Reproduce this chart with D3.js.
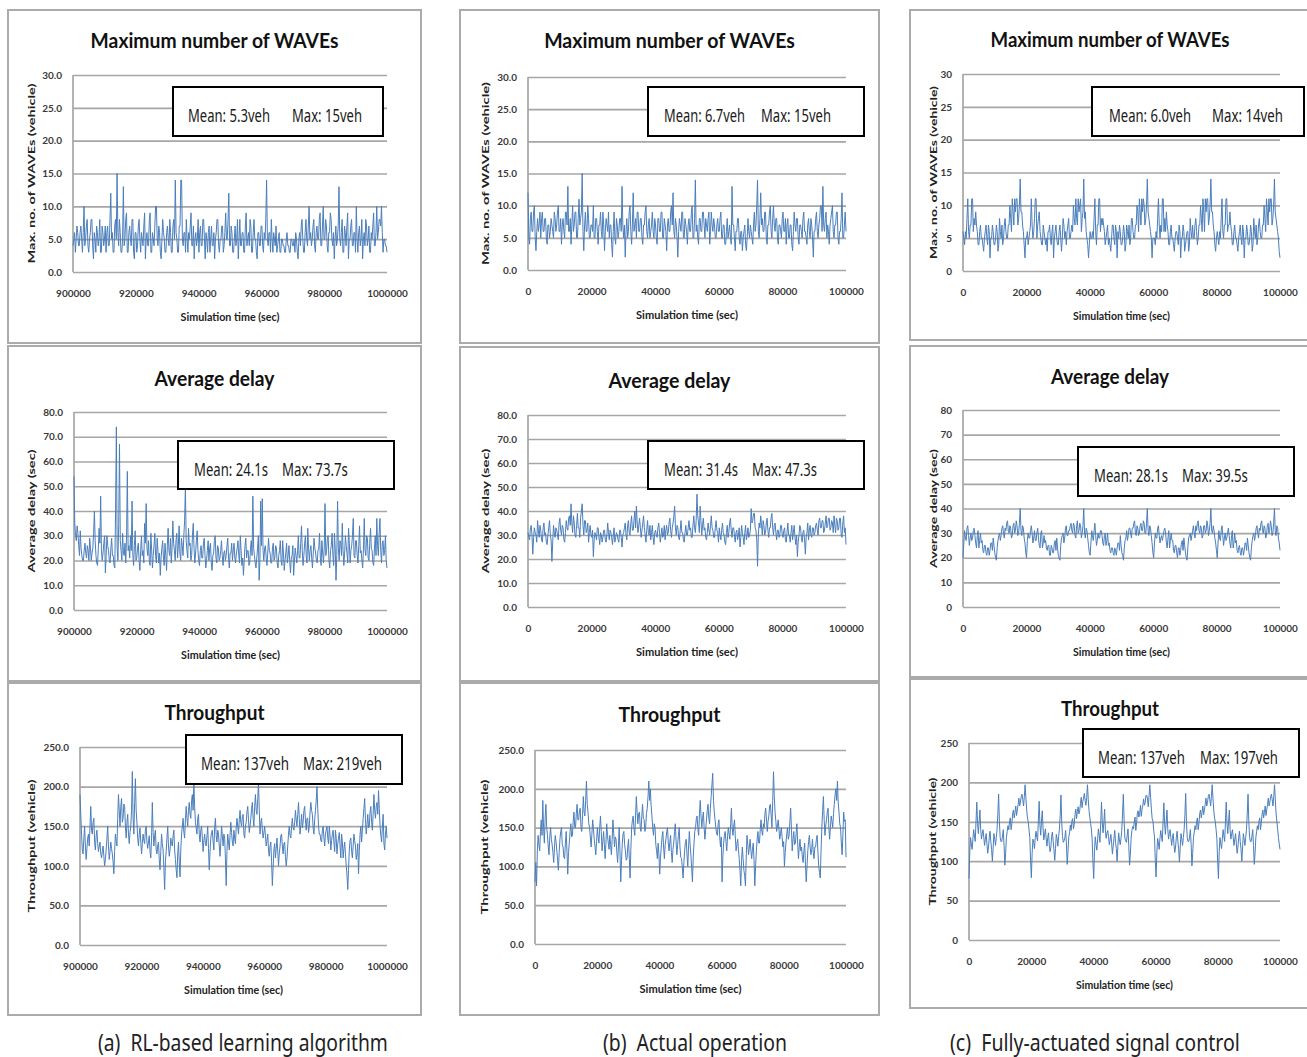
<!DOCTYPE html>
<html>
<head>
<meta charset="utf-8">
<script src="https://cdn.jsdelivr.net/npm/d3@7"></script>
<style>
  body { margin: 0; background: #fff; }
</style>
</head>
<body>
<svg id="fig" width="1307" height="1057"></svg>
<script>
// time ranges and ticks
const rlTime = [900000, 1000000];
const baseTime = [0, 100000];
const rlTicks = [900000, 920000, 940000, 960000, 980000, 1000000];
const baseTicks = [0, 20000, 40000, 60000, 80000, 100000];

const wavesTicks = [0, 5, 10, 15, 20, 25, 30];
const delayTicks = [0, 10, 20, 30, 40, 50, 60, 70, 80];
const thruTicks = [0, 50, 100, 150, 200, 250];

const titles = ["Maximum number of WAVEs", "Average delay", "Throughput"];
const yLabels = ["Max. no. of WAVEs (vehicle)", "Average delay (sec)", "Throughput (vehicle)"];
const captions = ["(a)  RL-based learning algorithm", "(b)  Actual operation", "(c)  Fully-actuated signal control"];

// legend texts [mean, max]
const legendWavesRL = ["Mean: 5.3veh", "Max: 15veh"];
const legendWavesActual = ["Mean: 6.7veh", "Max: 15veh"];
const legendWavesFull = ["Mean: 6.0veh", "Max: 14veh"];
const legendDelayRL = ["Mean: 24.1s", "Max: 73.7s"];
const legendDelayActual = ["Mean: 31.4s", "Max: 47.3s"];
const legendDelayFull = ["Mean: 28.1s", "Max: 39.5s"];
const legendThruRL = ["Mean: 137veh", "Max: 219veh"];
const legendThruFull = ["Mean: 137veh", "Max: 197veh"];

// series (evenly spaced over the time range)
const wavesRL = [
  4,5,6,3,5,7,6,4,4,6,7,5,3,6,10,4,5,7,8,4,3,5,6,8,8,4,2,6,5,3,7,6,4,5,8,3,3,7,6,4,
  5,7,3,6,7,4,4,8,12,5,6,3,3,7,8,5,15,6,4,8,6,3,3,5,13,4,5,8,9,3,3,6,7,5,4,8,8,3,2,6,
  6,3,4,7,8,5,3,6,5,4,7,9,2,5,6,4,4,8,9,3,3,6,5,4,7,10,10,5,4,7,6,3,2,5,8,6,5,3,3,6,
  7,5,4,8,6,3,3,7,8,5,14,6,5,3,3,7,7,14,14,5,4,6,6,3,8,5,3,6,5,7,9,4,4,7,2,5,6,4,5,8,
  3,6,7,4,4,8,8,5,2,6,5,3,6,7,3,5,7,4,4,6,2,5,6,8,8,4,3,5,5,7,7,3,4,6,9,5,5,8,12,4,
  4,7,6,3,3,5,7,4,5,8,2,5,8,4,4,6,6,3,3,7,9,4,5,6,4,8,7,3,3,6,8,5,5,3,2,6,6,4,4,7,
  7,4,3,6,5,8,14,5,4,6,6,3,8,5,3,6,5,4,7,3,4,5,6,3,3,5,5,4,4,3,3,5,6,4,4,3,3,5,5,4,
  4,5,3,6,5,3,2,5,6,4,7,8,5,3,3,6,8,5,4,7,10,5,6,4,5,7,8,4,3,6,7,5,5,8,9,4,4,7,10,5,
  5,8,7,4,3,6,6,9,8,5,4,6,2,5,7,4,5,7,13,5,4,6,8,3,3,7,6,4,7,9,2,5,5,7,8,4,4,6,6,3,
  10,5,3,6,7,4,5,8,2,5,6,4,8,7,4,5,7,3,3,6,5,7,9,4,4,6,10,5,6,8,8,7,10,6,3,5,5,4,4,3
];
const wavesActual = [
  12,5,4,8,9,6,6,9,10,5,3,6,8,6,7,9,5,8,9,6,6,8,8,5,4,7,7,5,6,8,7,6,5,9,8,6,7,9,10,6,
  6,8,4,7,8,6,5,9,9,7,13,6,6,8,4,7,10,6,7,9,9,5,5,8,11,7,8,9,15,6,3,7,9,6,6,10,8,5,5,7,
  7,6,10,5,5,8,8,6,4,7,7,9,6,5,9,7,3,6,8,7,6,9,5,7,7,4,2,6,9,5,4,8,7,5,6,8,8,6,13,7,
  5,7,2,6,8,5,6,9,10,6,4,7,12,6,7,8,5,9,9,6,6,8,8,5,4,7,7,9,10,6,5,7,8,5,6,7,9,6,5,8,
  7,5,4,8,8,6,6,9,9,5,5,8,7,6,3,7,8,6,6,9,10,7,12,6,5,8,7,5,2,6,8,7,6,9,9,5,5,8,7,6,
  4,7,8,6,6,9,10,5,5,8,14,6,7,5,4,8,8,6,6,9,9,7,5,8,7,6,8,9,4,6,9,7,6,8,7,5,5,7,8,6,
  6,8,9,5,5,7,7,4,4,6,8,5,6,7,5,4,13,7,7,5,3,6,6,8,8,5,4,6,6,3,5,6,7,4,3,5,8,6,5,7,
  6,5,4,7,9,6,7,10,14,6,5,8,12,7,8,6,6,9,9,5,4,7,7,9,10,6,5,8,10,7,6,8,8,5,4,7,7,6,5,8,
  9,6,6,8,4,7,8,5,5,7,7,4,3,6,9,7,6,8,8,5,4,7,7,6,5,8,9,6,6,5,4,7,8,6,5,8,7,5,2,6,
  6,8,9,6,5,7,8,10,10,6,13,7,6,8,9,5,7,6,4,7,8,9,10,6,5,7,7,9,9,5,4,6,6,8,12,5,5,7,9,6
];
const wavesFull = [
  6,5,4,6,5,8,11,6,5,7,7,11,11,6,8,7,9,7,6,4,4,6,7,5,5,4,3,5,6,7,5,4,7,6,2,5,5,7,6,4,
  4,5,7,6,3,4,8,6,5,7,4,5,7,8,6,5,5,7,7,10,8,6,11,9,7,11,9,11,11,7,8,10,14,9,9,7,6,4,2,5,
  5,6,4,5,6,7,11,7,5,6,8,11,11,5,7,8,9,6,5,4,4,7,6,5,4,5,3,6,6,7,5,4,6,7,2,5,6,7,5,4,
  4,6,7,5,3,5,8,7,5,6,4,6,7,8,5,5,6,7,6,10,8,7,11,8,7,11,9,10,11,6,8,9,14,8,9,6,5,4,2,4,
  6,5,5,6,5,8,11,6,4,7,7,11,11,6,8,7,8,7,6,4,5,6,7,4,5,4,3,5,7,7,5,4,7,6,2,6,5,7,6,4,
  4,5,7,6,3,4,7,6,5,7,4,5,8,8,6,5,5,7,7,10,9,6,11,9,7,11,9,11,10,7,8,10,14,9,8,7,6,5,2,5,
  5,5,4,6,5,8,11,7,5,7,6,11,11,6,8,6,9,7,6,4,4,6,7,5,5,4,3,5,6,6,5,4,7,6,2,5,5,7,6,3,
  4,5,6,6,3,4,8,6,5,7,5,5,7,8,6,4,5,7,7,10,8,6,11,9,6,11,9,11,11,7,8,10,14,9,9,7,6,4,3,5,
  6,5,4,6,5,8,11,6,5,7,7,11,11,6,7,7,9,7,6,4,4,6,7,5,5,4,3,5,6,7,5,4,7,6,2,5,5,7,6,4,
  4,5,7,6,3,4,8,6,5,7,4,5,7,8,6,5,5,7,7,10,8,6,11,9,7,11,9,11,11,7,8,10,14,9,8,7,6,5,3,2
];
const delayRL = [
  54,35,30,28,34,31,26,22,32,25,22,20,20,24,27,23,21,26,24,20,29,25,20,23,25,31,40,28,22,19,18,25,33,27,46,24,20,23,27,30,
  15,22,30,26,24,20,19,25,29,22,22,18,17,40,74,25,20,35,67,28,24,20,31,23,22,27,19,30,56,24,26,21,30,24,44,22,18,26,32,20,
  21,25,27,20,16,24,30,22,24,19,35,27,43,25,22,28,20,18,31,24,17,22,26,31,22,19,29,24,19,23,14,21,25,28,21,18,27,22,16,26,
  33,24,22,29,19,25,36,27,24,20,28,31,21,26,34,23,20,29,26,22,30,36,50,28,24,21,33,26,27,20,22,30,35,25,19,23,28,32,24,20,
  18,24,26,21,21,27,29,22,17,20,24,28,20,25,27,19,16,22,23,28,30,21,19,26,25,20,21,24,28,22,18,23,24,20,22,26,29,21,17,23,
  23,27,20,24,27,21,19,23,25,28,22,19,30,24,18,21,14,20,26,29,21,24,24,18,19,25,28,22,46,25,22,19,17,21,25,30,12,20,44,26,
  45,24,20,25,26,21,18,23,29,24,23,19,19,25,27,20,21,26,25,19,17,22,24,28,20,18,28,23,16,20,23,27,19,22,26,20,15,21,22,26,
  14,20,25,22,19,24,30,21,21,27,34,24,18,22,27,30,22,19,33,25,20,24,26,21,17,23,29,25,23,20,19,24,25,31,21,18,28,23,19,25,
  43,22,24,29,30,20,17,24,26,31,22,18,31,25,12,22,44,25,20,28,27,22,35,24,18,23,30,26,23,19,33,27,19,24,26,30,37,22,21,28,
  28,22,19,26,34,23,24,20,17,25,37,24,22,30,29,21,20,27,33,25,24,19,18,25,30,22,37,26,22,31,37,24,19,27,28,22,24,30,20,17
];
const delayActual = [
  31,29,28,33,34,30,22,29,33,31,30,27,36,32,29,34,32,28,27,33,35,30,31,27,26,30,33,36,30,28,19,27,34,31,29,33,32,30,28,35,
  37,32,30,34,33,28,27,31,36,33,32,37,38,34,43,35,31,38,35,30,29,34,39,33,33,29,37,40,43,34,30,36,36,31,32,35,27,31,34,30,
  29,32,21,28,31,30,28,33,33,29,26,31,30,27,29,32,32,28,27,30,35,31,28,32,31,29,26,30,33,27,29,31,30,28,27,32,32,29,25,30,
  31,33,35,30,28,34,36,31,30,35,38,32,32,36,40,33,42,35,31,34,37,33,29,32,35,38,33,30,27,32,36,31,30,34,28,31,34,29,26,31,
  32,30,29,33,35,31,27,30,33,29,30,34,28,32,34,30,31,35,37,32,29,33,35,38,42,33,30,34,33,29,28,32,36,31,31,28,27,31,34,30,
  30,33,36,32,33,29,29,34,38,33,31,36,47,38,35,31,42,36,30,34,37,32,33,29,28,31,35,32,30,34,38,33,32,29,29,33,36,32,31,27,
  33,30,28,32,35,31,30,27,26,31,34,29,31,35,37,32,29,33,33,30,27,31,32,28,30,33,25,29,34,31,29,26,31,34,28,30,33,29,30,32,
  41,35,36,39,39,33,32,28,17,30,35,33,38,34,30,36,34,30,31,35,37,32,29,33,33,37,39,33,30,34,35,31,28,32,32,29,30,34,34,30,
  29,32,33,28,27,31,35,30,30,27,31,34,28,31,34,29,26,30,21,27,30,34,33,29,27,31,32,28,22,29,31,35,28,32,34,30,29,33,33,30,
  31,34,35,32,30,36,37,33,33,36,36,31,32,35,38,33,34,37,37,32,33,36,35,31,38,34,31,37,36,32,33,37,37,30,29,35,38,31,33,26
];
const delayFull = [
  20,26,31,28,27,32,33,29,25,28,30,27,28,31,32,29,26,24,29,31,24,27,30,26,27,23,22,25,25,22,21,24,24,21,23,26,26,23,28,25,
  22,20,19,24,27,29,30,27,29,32,33,30,28,32,31,34,35,31,30,33,32,28,29,33,34,30,31,35,33,29,30,34,40,31,29,33,32,28,26,22,
  20,27,30,28,28,31,33,30,26,28,31,27,27,30,32,28,25,24,30,31,24,26,29,26,27,24,23,25,25,21,21,25,24,22,22,26,27,23,28,24,
  21,20,19,25,28,29,30,26,28,32,33,29,29,31,31,33,34,31,30,34,33,29,28,33,35,30,31,34,33,28,30,33,40,30,28,32,31,28,25,22,
  21,26,31,29,27,31,34,29,25,27,30,28,28,31,31,29,26,25,29,30,25,27,30,25,26,23,22,24,24,22,21,24,23,21,24,26,26,23,29,25,
  22,21,19,24,27,28,31,27,29,32,32,30,28,32,32,34,35,30,29,33,32,29,30,33,34,31,31,35,34,30,30,34,40,31,29,33,32,29,26,22,
  20,26,30,28,28,32,33,29,26,28,29,27,29,31,32,30,26,24,28,31,24,27,30,27,27,23,22,25,25,22,20,24,24,21,23,26,27,23,28,25,
  22,20,19,24,28,29,30,27,29,31,33,30,28,33,31,34,35,31,30,33,32,28,29,33,33,30,31,35,33,29,31,34,40,31,30,33,31,28,26,23,
  20,26,31,28,27,31,33,29,25,28,30,27,28,30,32,29,26,24,29,31,24,26,30,26,27,23,22,24,25,22,21,24,24,21,23,26,26,23,28,25,
  22,20,19,24,27,29,30,27,29,32,33,30,28,32,31,34,35,31,30,33,32,28,29,33,34,30,31,35,33,29,30,34,40,31,29,33,32,28,26,23
];
const thruRL = [
  190,165,140,120,115,135,150,125,108,122,135,140,125,150,175,145,140,155,160,130,120,138,145,128,118,125,130,115,110,118,125,112,100,108,120,135,150,125,108,118,
  130,122,115,105,90,118,140,132,125,160,190,170,150,175,185,155,160,178,175,150,135,155,165,140,128,142,150,170,219,160,140,180,210,170,155,135,125,140,148,130,
  115,128,140,132,128,145,150,130,122,130,138,118,110,135,180,142,125,138,145,120,115,125,130,108,95,118,140,128,120,98,70,105,118,135,150,125,112,120,135,128,
  125,138,145,120,108,95,85,115,130,105,86,120,140,150,160,142,135,158,175,160,150,170,180,165,160,182,190,170,205,175,155,148,140,160,165,140,130,145,150,135,
  118,132,140,128,125,138,150,122,95,118,135,142,145,130,120,148,160,138,130,145,140,125,112,130,150,138,125,140,135,110,75,118,140,130,120,138,155,142,130,125,
  145,135,128,148,160,150,140,158,170,155,150,162,165,140,135,150,155,168,175,158,142,150,160,172,180,160,150,175,190,170,165,185,205,170,140,155,160,145,135,142,
  150,138,125,132,140,120,112,125,130,105,75,98,120,128,110,122,135,118,100,115,125,138,140,125,115,128,130,112,100,110,125,140,150,138,135,150,160,148,145,155,
  170,158,150,165,180,160,140,152,165,148,155,170,175,158,145,160,160,142,150,168,180,170,165,148,140,158,170,182,200,172,150,140,140,132,130,145,150,135,125,140,
  145,150,135,128,150,138,120,132,140,145,130,118,145,135,115,128,135,142,125,110,140,130,110,122,130,115,100,88,70,95,120,132,135,118,110,125,140,132,125,108,
  115,128,90,118,140,150,130,145,160,172,185,158,140,152,165,148,150,168,175,155,145,165,190,170,160,175,180,165,195,172,150,138,130,150,165,128,120,140,150,135
];
const thruActual = [
  80,105,75,120,140,128,120,145,160,140,185,150,130,162,180,150,140,125,115,138,150,135,128,118,105,125,140,132,120,108,95,118,135,145,150,128,125,112,110,130,
  145,120,90,118,130,145,155,138,140,158,170,150,150,168,180,160,160,172,175,150,145,165,190,170,165,185,210,180,170,155,150,138,125,142,160,148,135,125,115,132,
  150,138,130,150,165,145,120,132,145,128,110,130,155,140,130,122,140,128,115,135,160,142,125,138,135,118,105,125,150,120,80,108,130,142,145,128,120,108,110,125,
  135,110,85,122,150,160,165,148,140,165,190,170,155,168,170,150,145,165,180,162,160,145,150,168,175,190,210,185,200,178,165,150,140,155,150,128,120,110,130,115,
  90,112,125,138,145,125,110,128,135,145,150,130,120,132,140,118,105,122,130,145,155,132,115,128,140,150,125,112,110,98,85,105,120,132,135,115,100,125,145,128,
  115,98,80,112,130,145,150,162,165,148,140,168,185,165,150,162,170,150,135,148,160,172,180,162,155,175,190,205,220,185,170,160,150,142,140,155,160,138,125,138,
  80,112,130,140,145,132,120,138,150,142,135,155,175,150,140,152,160,138,120,128,135,122,110,95,75,108,125,110,95,88,75,112,140,128,115,125,135,120,110,122,
  130,108,75,100,120,135,145,130,130,148,160,145,140,155,150,168,175,160,145,158,165,178,180,165,150,185,222,190,170,158,145,152,160,148,135,142,150,138,125,132,
  100,118,130,142,150,135,140,158,175,148,120,135,145,128,130,142,155,130,110,125,135,120,125,112,105,120,130,102,80,100,120,132,140,125,115,122,135,118,110,125,
  125,135,140,118,100,92,85,120,150,172,190,160,140,152,160,170,175,150,135,150,165,158,150,168,180,192,200,185,210,182,170,155,150,130,115,140,170,158,160,112
];
const thruFull = [
  78,112,130,122,115,128,140,132,125,150,175,148,135,150,165,140,128,135,140,130,120,128,135,122,110,118,130,138,125,115,100,118,135,128,120,130,140,160,185,150,
  130,125,125,132,140,120,95,110,130,138,145,140,150,155,140,148,160,165,155,162,170,158,165,172,180,170,175,182,185,178,170,182,197,180,165,155,150,140,130,100,
  79,110,128,124,116,130,138,130,126,152,176,146,133,151,164,142,127,134,141,129,119,130,136,120,112,117,131,137,126,114,101,116,134,129,119,131,141,158,184,148,
  131,124,126,130,139,122,96,112,131,136,146,139,151,154,141,147,159,166,154,163,169,160,164,173,181,168,176,180,186,177,171,181,197,178,164,156,148,141,128,99,
  78,113,131,121,114,127,141,133,124,149,175,149,136,149,166,139,129,136,139,131,121,127,134,123,109,119,129,139,124,116,100,119,136,127,121,129,139,161,185,151,
  129,126,124,133,141,119,95,109,129,139,144,141,149,156,139,149,161,164,156,161,171,157,166,171,179,171,174,183,184,179,169,183,197,181,166,154,151,139,131,101,
  80,111,129,123,115,129,139,131,125,151,174,147,134,150,165,141,128,135,140,130,120,129,135,121,111,118,130,138,125,115,99,118,135,128,120,130,140,159,186,150,
  130,125,125,131,140,121,94,110,130,137,145,140,150,155,140,148,160,165,155,162,170,159,165,172,180,170,175,182,185,178,170,182,197,180,165,155,150,140,129,100,
  78,112,130,122,116,128,140,132,125,150,175,148,135,150,165,140,128,135,140,130,120,128,135,122,110,118,130,138,125,115,100,118,135,128,120,130,140,160,185,150,
  130,125,125,132,140,120,96,110,130,138,145,140,150,155,140,148,160,165,155,162,170,158,165,172,180,170,175,182,185,178,170,182,197,178,160,150,140,130,122,115
];

const fmt1 = d3.format(".1f");
const fmt0 = d3.format("d");

// layout of each small chart: outer box, plot area, text positions
const panels = [
  { box: [8, 10, 413, 333], plot: [73, 387, 75, 272], yl: 31, ylw: 180, tb: 48, tw: 248, xlw: 99,
    time: rlTime, xTicks: rlTicks, yTicks: wavesTicks, fmt: fmt1, title: titles[0], ylab: yLabels[0], values: wavesRL,
    legend: { r: [173, 87, 210, 49], off: [15, 119], w: [82, 70], txt: legendWavesRL } },
  { box: [8, 346, 413, 335], plot: [74, 387, 412, 610], yl: 31, ylw: 123, tb: 386, tw: 120, xlw: 99,
    time: rlTime, xTicks: rlTicks, yTicks: delayTicks, fmt: fmt1, title: titles[1], ylab: yLabels[1], values: delayRL,
    legend: { r: [178, 441, 216, 48], off: [16, 104], w: [74, 66], txt: legendDelayRL } },
  { box: [8, 683, 413, 332], plot: [80, 387, 747, 945], yl: 31, ylw: 133, tb: 720, tw: 100, xlw: 99,
    time: rlTime, xTicks: rlTicks, yTicks: thruTicks, fmt: fmt1, title: titles[2], ylab: yLabels[2], values: thruRL,
    legend: { r: [186, 735, 216, 49], off: [15, 117], w: [88, 79], txt: legendThruRL } },
  { box: [460, 10, 419, 333], plot: [528, 846, 77, 270], yl: 485, ylw: 183, tb: 48, tw: 251, xlw: 102,
    time: baseTime, xTicks: baseTicks, yTicks: wavesTicks, fmt: fmt1, title: titles[0], ylab: yLabels[0], values: wavesActual,
    legend: { r: [648, 87, 216, 49], off: [16, 113], w: [81, 70], txt: legendWavesActual } },
  { box: [460, 347, 419, 334], plot: [528, 846, 415, 607], yl: 485, ylw: 125, tb: 388, tw: 122, xlw: 102,
    time: baseTime, xTicks: baseTicks, yTicks: delayTicks, fmt: fmt1, title: titles[1], ylab: yLabels[1], values: delayActual,
    legend: { r: [648, 441, 216, 48], off: [16, 104], w: [74, 65], txt: legendDelayActual } },
  { box: [460, 683, 419, 332], plot: [535, 846, 750, 944], yl: 484, ylw: 135, tb: 722, tw: 102, xlw: 102,
    time: baseTime, xTicks: baseTicks, yTicks: thruTicks, fmt: fmt1, title: titles[2], ylab: yLabels[2], values: thruActual,
    legend: null },
  { box: [910, 10, 400, 330], plot: [963, 1280, 74, 271], yl: 933, ylw: 173, tb: 47, tw: 239, xlw: 97,
    time: baseTime, xTicks: baseTicks, yTicks: wavesTicks, fmt: fmt0, title: titles[0], ylab: yLabels[0], values: wavesFull,
    legend: { r: [1092, 87, 212, 49], off: [17, 120], w: [82, 71], txt: legendWavesFull } },
  { box: [910, 346, 400, 331], plot: [963, 1280, 410, 607], yl: 933, ylw: 119, tb: 384, tw: 118, xlw: 97,
    time: baseTime, xTicks: baseTicks, yTicks: delayTicks, fmt: fmt0, title: titles[1], ylab: yLabels[1], values: delayFull,
    legend: { r: [1078, 447, 216, 49], off: [16, 104], w: [74, 66], txt: legendDelayFull } },
  { box: [910, 679, 400, 329], plot: [969, 1280, 743, 940], yl: 932, ylw: 128, tb: 716, tw: 98, xlw: 97,
    time: baseTime, xTicks: baseTicks, yTicks: thruTicks, fmt: fmt0, title: titles[2], ylab: yLabels[2], values: thruFull,
    legend: { r: [1083, 729, 216, 48], off: [15, 117], w: [87, 78], txt: legendThruFull } }
];

const svg = d3.select("#fig");

// squeeze a text horizontally to a given width (the source fonts are condensed)
function squeeze(t, x, y, w, rot) {
  const len = t.node().getComputedTextLength();
  const k = w / len;
  t.attr("transform", `translate(${x},${y})${rot ? " rotate(-90)" : ""} scale(${k},1)`);
  return t;
}

panels.forEach(p => drawPanel(p));

function drawPanel(p) {
  const g = svg.append("g");
  const [px0, px1, py0, py1] = p.plot;

  // outer frame
  g.append("rect")
    .attr("x", p.box[0]).attr("y", p.box[1])
    .attr("width", p.box[2]).attr("height", p.box[3])
    .attr("fill", "none")
    .attr("stroke", "#ababab")
    .attr("stroke-width", 2);

  const x = d3.scaleLinear().domain(p.time).range([px0, px1]);
  const y = d3.scaleLinear().domain([0, d3.max(p.yTicks)]).range([py1, py0]);

  // gridlines + y tick labels
  const yAxis = d3.axisLeft(y)
    .tickValues(p.yTicks)
    .tickFormat(p.fmt)
    .tickSize(-(px1 - px0))
    .tickPadding(11);
  const ya = g.append("g")
    .attr("transform", `translate(${px0},0)`)
    .call(yAxis);
  ya.select(".domain").remove();
  ya.selectAll(".tick line")
    .attr("stroke", "#a6a6a6")
    .attr("stroke-width", 1.7);
  ya.selectAll(".tick text")
    .attr("font-family", "Lato, sans-serif")
    .attr("font-weight", 700)
    .attr("font-size", 10)
    .attr("fill", "#3a3a3a");

  // left axis line
  g.append("line")
    .attr("x1", px0).attr("x2", px0)
    .attr("y1", py0).attr("y2", py1)
    .attr("stroke", "#a6a6a6")
    .attr("stroke-width", 1.7);

  // x tick labels
  const xAxis = d3.axisBottom(x)
    .tickValues(p.xTicks)
    .tickFormat(fmt0)
    .tickSize(0)
    .tickPadding(18);
  const xa = g.append("g")
    .attr("transform", `translate(0,${py1})`)
    .call(xAxis);
  xa.select(".domain").remove();
  xa.selectAll(".tick text")
    .attr("font-family", "Lato, sans-serif")
    .attr("font-weight", 700)
    .attr("font-size", 10)
    .attr("fill", "#3a3a3a");

  // series line
  const idx = d3.scaleLinear().domain([0, p.values.length - 1]).range(p.time);
  const line = d3.line()
    .x((d, i) => x(idx(i)))
    .y(d => y(d));
  g.append("path")
    .datum(p.values)
    .attr("fill", "none")
    .attr("stroke", "#4a7ebb")
    .attr("stroke-width", 1)
    .attr("stroke-linejoin", "round")
    .attr("d", line);

  // title
  const title = g.append("text")
    .attr("text-anchor", "middle")
    .attr("font-family", "Lato, sans-serif")
    .attr("font-weight", 700)
    .attr("font-size", 21)
    .attr("fill", "#111")
    .text(p.title);
  squeeze(title, p.box[0] + 206.5 + (p.box[2] - 413) / 2, p.tb, p.tw);

  // y label
  const yl = g.append("text")
    .attr("text-anchor", "middle")
    .attr("dominant-baseline", "central")
    .attr("font-family", "Lato, sans-serif")
    .attr("font-weight", 700)
    .attr("font-size", 10)
    .attr("fill", "#222")
    .text(p.ylab);
  squeeze(yl, p.yl, (py0 + py1) / 2, p.ylw, true);

  // x label
  const xl = g.append("text")
    .attr("text-anchor", "middle")
    .attr("font-family", "Lato, sans-serif")
    .attr("font-weight", 700)
    .attr("font-size", 11)
    .attr("fill", "#222")
    .text("Simulation time (sec)");
  squeeze(xl, (px0 + px1) / 2, py1 + 49, p.xlw);

  // stats box
  if (p.legend) {
    const L = p.legend;
    g.append("rect")
      .attr("x", L.r[0]).attr("y", L.r[1])
      .attr("width", L.r[2]).attr("height", L.r[3])
      .attr("fill", "#fff")
      .attr("stroke", "#000")
      .attr("stroke-width", 2);
    L.txt.forEach((t, i) => {
      const lt = g.append("text")
        .attr("font-family", "'Noto Sans', sans-serif")
        .attr("font-size", 18)
        .attr("fill", "#1a1a1a")
        .text(t);
      squeeze(lt, L.r[0] + L.off[i], L.r[1] + 35, L.w[i]);
    });
  }
}

// captions under the columns
const capPos = [[98, 290], [603, 184], [950, 290]];
captions.forEach((c, i) => {
  const t = svg.append("text")
    .attr("class", "caption")
    .style("white-space", "pre")
    .attr("font-family", "'Noto Sans', sans-serif")
    .attr("font-size", 24)
    .attr("fill", "#222")
    .text(c);
  squeeze(t, capPos[i][0], 1051, capPos[i][1]);
});
</script>
</body>
</html>
